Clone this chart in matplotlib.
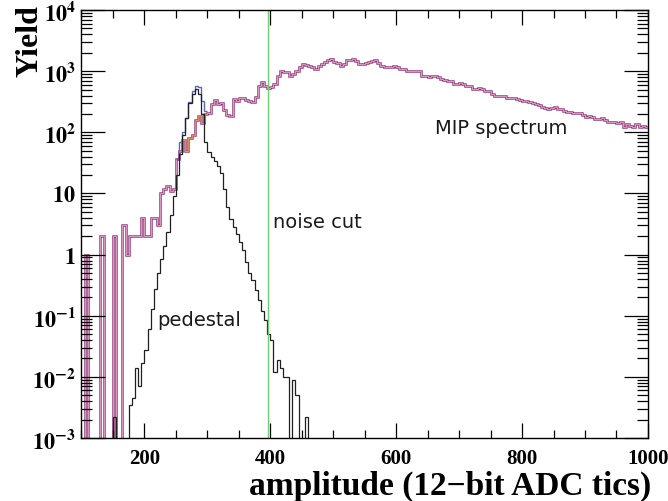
import numpy as np
import matplotlib
matplotlib.use("Agg")
import matplotlib.pyplot as plt
from matplotlib.ticker import FixedLocator, MultipleLocator, LogLocator, NullFormatter

plt.rcParams['mathtext.fontset'] = 'stix'

# binning (ADC tics)
bin_width = 5
x_start = 100

# MIP spectrum (magenta), bins from 100 to 1000
mip = [
    0, 1, 0, 0, 0, 0, 2, 0, 0, 0,            # 100-145
    2, 0, 0, 3, 1, 2, 2, 2, 2, 4,            # 150-195
    2, 2, 4, 4, 3, 10, 12, 13, 11, 12,       # 200-245
    36, 50, 75, 50, 80, 90, 160, 185, 140, 200,   # 250-295
    210, 290, 340, 290, 300, 230, 190, 186, 350, 330,  # 300-345
    370, 360, 340, 320, 310, 380, 575, 660, 575, 540,  # 350-395
    560, 610, 830, 1000, 980, 960, 830, 900, 1010, 1150,  # 400-445
    1300, 1250, 1200, 1150, 1080, 1200, 1300, 1400, 1500, 1570,  # 450-495
    1400, 1350, 1200, 1300, 1500, 1550, 1570, 1450, 1300, 1300,  # 500-545
    1350, 1400, 1450, 1500, 1350, 1200, 1180, 1150, 1170, 1200,  # 550-595
    1150, 1080, 1080, 1010, 1010, 1010, 1020, 1000, 830, 830,    # 600-645
    800, 820, 830, 790, 740, 730, 700, 680, 610, 620,            # 650-695
    640, 620, 575, 570, 505, 510, 530, 520, 475, 470,            # 700-745
    430, 394, 400, 394, 390, 371, 371, 360, 348, 340,            # 750-795
    330, 320, 310, 300, 288, 280, 255, 250, 245, 250,            # 800-845
    255, 240, 245, 225, 213, 215, 205, 210, 205, 190,            # 850-895
    176, 185, 180, 165, 163, 170, 160, 150, 150, 145,            # 900-945
    140, 145, 120, 135, 125, 120, 135, 120, 125, 120,            # 950-995
]

# peak region: total (blue) and signal (orange)
total_start = 250
total = [36, 70, 100, 170, 310, 480, 580, 560, 320, 220]
signal_start = 255
signal = [50, 75, 50, 80, 90, 160, 185, 140, 200]

# pedestal (black)
ped_start = 150
pedestal = [
    0.0022, 0, 0, 0, 0, 0.0035, 0.0045, 0.014, 0.007, 0.017,   # 150-195
    0.028, 0.06, 0.13, 0.27, 0.5, 0.85, 1.4, 2.3, 4.5, 9,       # 200-245
    20, 45, 90, 170, 300, 430, 520, 430, 200, 70,               # 250-295
    48, 40, 34, 28, 22, 12, 6, 3.8, 2.8, 2.2,                   # 300-345
    1.6, 1.2, 0.75, 0.5, 0.38, 0.26, 0.18, 0.12, 0.085, 0.05,   # 350-395
    0.04, 0.012, 0.019, 0.014, 0.01, 0.01, 0, 0.009, 0.005, 0,  # 400-445
    0, 0.0022,                                                  # 450-455
]

noise_cut = 396

floor = 1e-6


def edges(start, n):
    return start + bin_width * np.arange(n + 1)


fig = plt.figure(figsize=(6.68, 5.02), dpi=100)
ax = fig.add_axes([0.122, 0.1255, 0.848, 0.8525])

mip_v = np.clip(np.array(mip, dtype=float), floor, None)
ax.stairs(mip_v, edges(x_start, len(mip)), baseline=None, color='#93397a', lw=1.8)
ax.stairs(mip_v, edges(x_start, len(mip)), baseline=None, color='#e8a8d2', lw=0.6)
ax.stairs(total, edges(total_start, len(total)), baseline=None, color='#5a68b8', lw=1.0)
ax.stairs(signal, edges(signal_start, len(signal)), baseline=None, color='#e08a60', lw=1.0)
ped_v = np.clip(np.array(pedestal, dtype=float), floor, None)
ax.stairs(ped_v, edges(ped_start, len(pedestal)), baseline=floor, color='#202020', lw=0.9)

ax.axvline(noise_cut, color='#6fcf6f', lw=1.0)

ax.set_yscale('log')
ax.set_xlim(100, 1000)
ax.set_ylim(1e-3, 1e4)

ax.xaxis.set_minor_locator(MultipleLocator(50))
xt = [200, 400, 600, 800, 1000]
ax.set_xticks(xt)
ax.set_xticklabels([str(v) for v in xt], fontfamily='Liberation Serif',
                   fontweight='bold', fontsize=15)

yt = [1e-3, 1e-2, 1e-1, 1, 10, 1e2, 1e3, 1e4]
ylabels = [r'$\mathbf{10^{-3}}$', r'$\mathbf{10^{-2}}$', r'$\mathbf{10^{-1}}$',
           r'$\mathbf{1}$', r'$\mathbf{10}$', r'$\mathbf{10^{2}}$',
           r'$\mathbf{10^{3}}$', r'$\mathbf{10^{4}}$']
ax.yaxis.set_major_locator(FixedLocator(yt))
ax.yaxis.set_minor_locator(LogLocator(base=10, subs=np.arange(2, 10), numticks=20))
ax.yaxis.set_minor_formatter(NullFormatter())
ax.set_yticklabels(ylabels, fontsize=16)

ax.tick_params(which='both', direction='in', top=True, right=True, width=0.9)
ax.tick_params(axis='x', which='major', length=11, pad=7)
ax.tick_params(axis='x', which='minor', length=6)
ax.tick_params(axis='y', which='major', length=17, pad=4)
ax.tick_params(axis='y', which='minor', length=8)
for s in ax.spines.values():
    s.set_linewidth(1.0)

ax.text(405, 3.5, 'noise cut', fontsize=14, color='#1a1a1a', va='center')
ax.text(662, 120, 'MIP spectrum', fontsize=14, color='#1a1a1a', va='center')
ax.text(220, 0.086, 'pedestal', fontsize=14, color='#1a1a1a', va='center')

fig.text(0.975, 0.032, 'amplitude (12\u2212bit ADC tics)', ha='right', va='center',
         fontfamily='Liberation Serif', fontweight='bold', fontsize=24)
fig.text(0.045, 0.99, 'Yield', rotation=90, ha='center', va='top',
         fontfamily='Liberation Serif', fontweight='bold', fontsize=23)

fig.savefig('out.png', dpi=100)
